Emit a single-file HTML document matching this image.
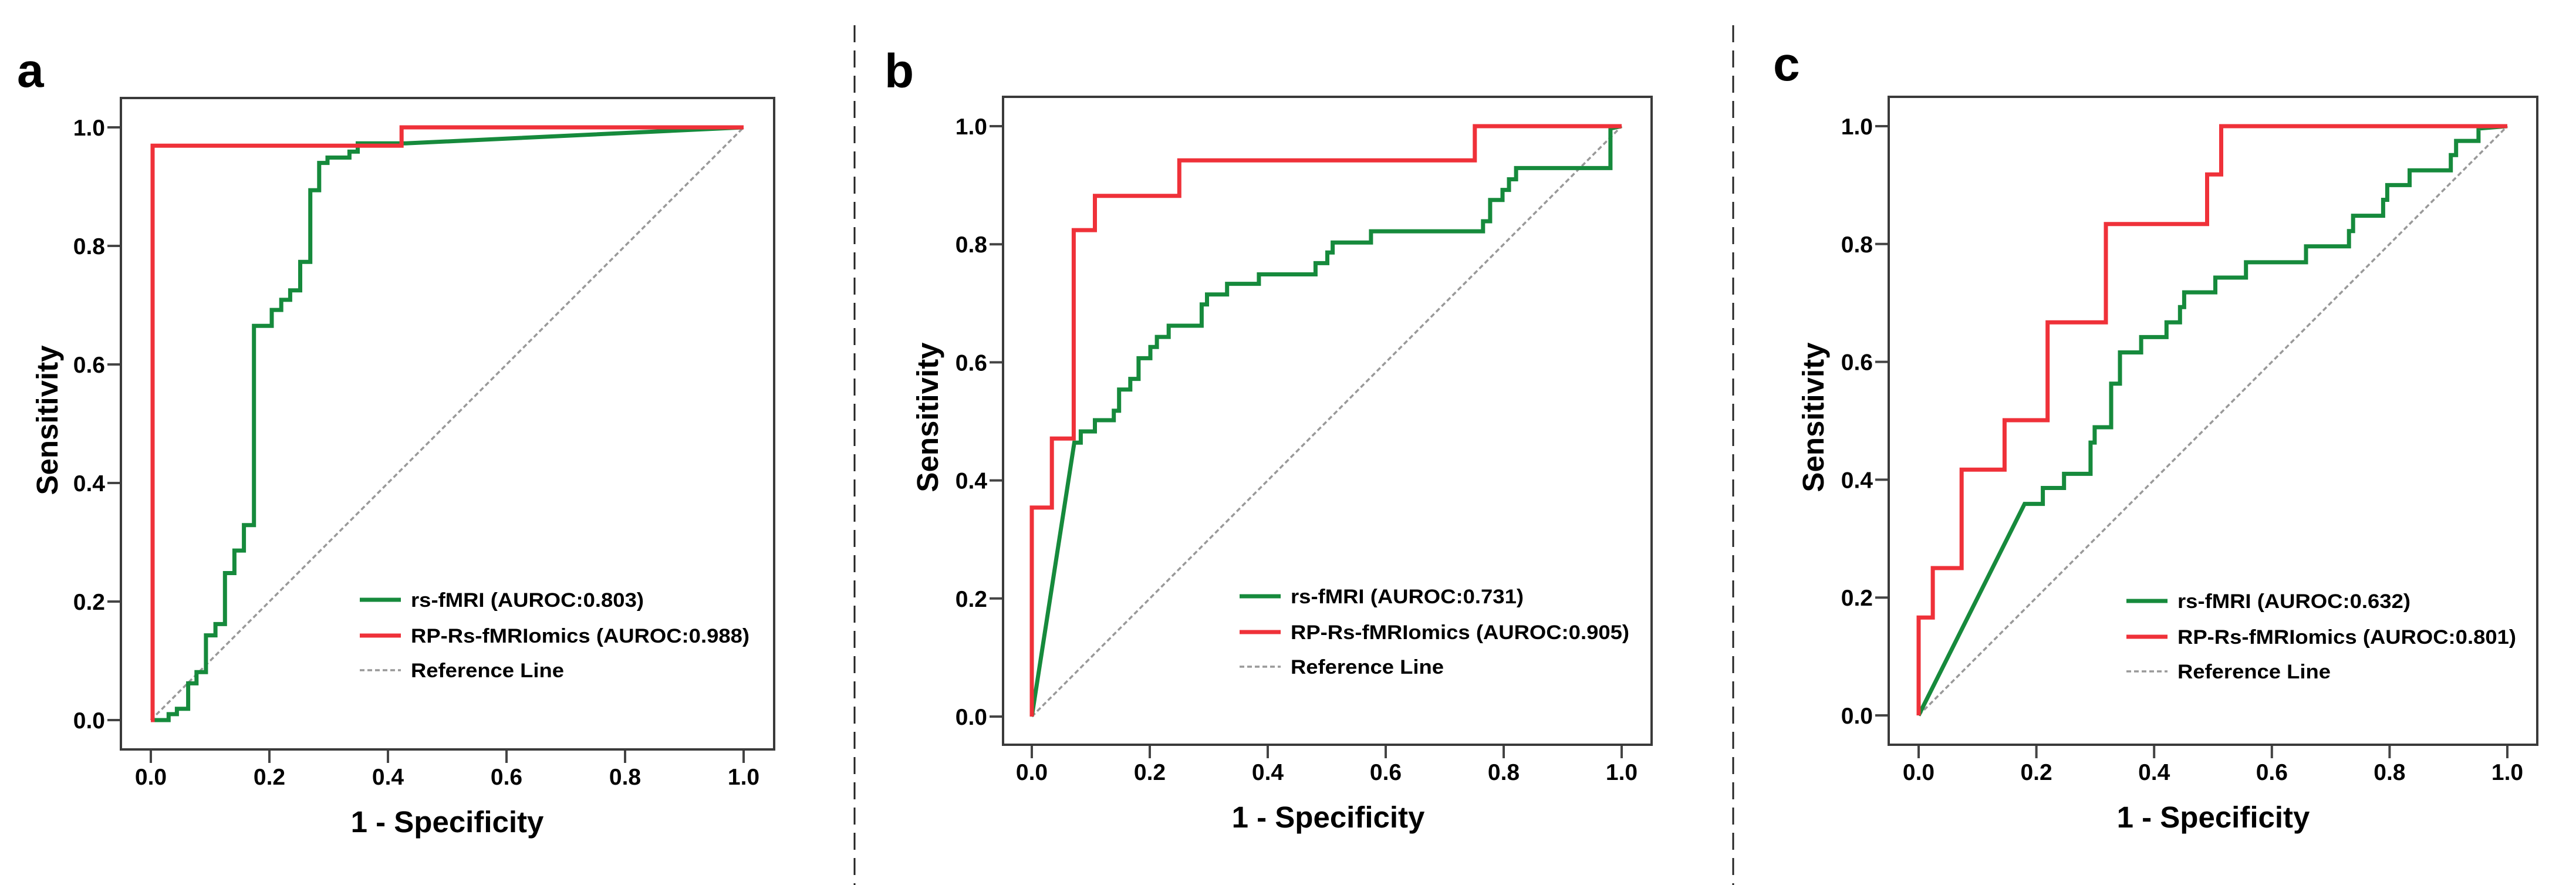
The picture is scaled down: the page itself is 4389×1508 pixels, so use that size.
<!DOCTYPE html>
<html><head><meta charset="utf-8"><style>
html,body{margin:0;padding:0;background:#fff;}
svg{display:block;font-family:"Liberation Sans",Arial,sans-serif;font-weight:bold;}
</style></head><body>
<svg id="fig" width="4389" height="1508" viewBox="0 0 4389 1508" xmlns="http://www.w3.org/2000/svg">
<rect x="0" y="0" width="4389" height="1508" fill="#fff"/>
<line x1="1456" y1="43" x2="1456" y2="1508" stroke="#222" stroke-width="3" stroke-dasharray="29 14"/>
<line x1="2953" y1="43" x2="2953" y2="1508" stroke="#222" stroke-width="3" stroke-dasharray="29 14"/>
</svg>
<script>
// ---- data: ROC vertices (1 - specificity, sensitivity) ----
const tickLabels = ["0.0","0.2","0.4","0.6","0.8","1.0"];
const tickValues = [0,0.2,0.4,0.6,0.8,1.0];

const aGreenFpr = [0,0.03,0.03,0.044,0.044,0.063,0.063,0.077,0.077,0.093,0.093,0.109,0.109,0.125,0.125,0.141,0.141,0.157,0.157,0.174,0.174,0.204,0.204,0.22,0.22,0.235,0.235,0.252,0.252,0.269,0.269,0.284,0.284,0.298,0.298,0.335,0.335,0.349,0.349,0.43,1];
const aGreenTpr = [0,0,0.01,0.01,0.019,0.019,0.062,0.062,0.081,0.081,0.143,0.143,0.162,0.162,0.248,0.248,0.286,0.286,0.329,0.329,0.665,0.665,0.692,0.692,0.709,0.709,0.725,0.725,0.773,0.773,0.894,0.894,0.94,0.94,0.949,0.949,0.959,0.959,0.973,0.973,1];
const aRedFpr = [0,0.003,0.003,0.423,0.423,1];
const aRedTpr = [0,0,0.969,0.969,1,1];

const bGreenFpr = [0,0.072,0.083,0.083,0.107,0.107,0.139,0.139,0.148,0.148,0.167,0.167,0.181,0.181,0.201,0.201,0.212,0.212,0.232,0.232,0.288,0.288,0.297,0.297,0.331,0.331,0.385,0.385,0.481,0.481,0.501,0.501,0.51,0.51,0.575,0.575,0.765,0.765,0.777,0.777,0.798,0.798,0.809,0.809,0.821,0.821,0.981,0.981,1];
const bGreenTpr = [0,0.464,0.464,0.483,0.483,0.502,0.502,0.518,0.518,0.554,0.554,0.572,0.572,0.607,0.607,0.626,0.626,0.643,0.643,0.662,0.662,0.698,0.698,0.715,0.715,0.733,0.733,0.749,0.749,0.768,0.768,0.786,0.786,0.803,0.803,0.822,0.822,0.839,0.839,0.875,0.875,0.892,0.892,0.91,0.91,0.929,0.929,0.996,1];
const bRedFpr = [0,0,0.034,0.034,0.071,0.071,0.107,0.107,0.25,0.25,0.751,0.751,1];
const bRedTpr = [0,0.354,0.354,0.471,0.471,0.824,0.824,0.882,0.882,0.942,0.942,1,1];

const cGreenFpr = [0,0.18,0.211,0.211,0.247,0.247,0.292,0.292,0.299,0.299,0.327,0.327,0.342,0.342,0.378,0.378,0.421,0.421,0.444,0.444,0.451,0.451,0.504,0.504,0.556,0.556,0.658,0.658,0.731,0.731,0.738,0.738,0.789,0.789,0.796,0.796,0.834,0.834,0.904,0.904,0.913,0.913,0.951,0.951,1];
const cGreenTpr = [0,0.359,0.359,0.386,0.386,0.41,0.41,0.463,0.463,0.489,0.489,0.563,0.563,0.616,0.616,0.642,0.642,0.667,0.667,0.693,0.693,0.718,0.718,0.743,0.743,0.769,0.769,0.796,0.796,0.822,0.822,0.848,0.848,0.875,0.875,0.9,0.9,0.925,0.925,0.951,0.951,0.975,0.975,0.996,1];
const cRedFpr = [0,0,0.024,0.024,0.073,0.073,0.146,0.146,0.219,0.219,0.318,0.318,0.49,0.49,0.514,0.514,1];
const cRedTpr = [0,0.166,0.166,0.25,0.25,0.417,0.417,0.501,0.501,0.667,0.667,0.834,0.834,0.918,0.918,1,1];

const panelLetters = ["a","b","c"];
const greenLabels = ["rs-fMRI (AUROC:0.803)","rs-fMRI (AUROC:0.731)","rs-fMRI (AUROC:0.632)"];
const redLabels = ["RP-Rs-fMRIomics (AUROC:0.988)","RP-Rs-fMRIomics (AUROC:0.905)","RP-Rs-fMRIomics (AUROC:0.801)"];

// ---- layout ----
const layouts = [
 {L:206,R:1319,T:167,B:1277,x0:257,x1:1267,y0:1227,y1:217,letterX:29,letterY:148,sensX:98,xtc:762,legX:613,legY:1022},
 {L:1709,R:2814,T:165,B:1269,x0:1758,x1:2763,y0:1221,y1:215,letterX:1507,letterY:149,sensX:1598,xtc:2263,legX:2112,legY:1016},
 {L:3218,R:4323,T:165,B:1269,x0:3269,x1:4272,y0:1219,y1:215,letterX:3021,letterY:137,sensX:3107,xtc:3771,legX:3623,legY:1024}
];
const series = [[aGreenFpr,aGreenTpr,aRedFpr,aRedTpr],[bGreenFpr,bGreenTpr,bRedFpr,bRedTpr],[cGreenFpr,cGreenTpr,cRedFpr,cRedTpr]];
const NS="http://www.w3.org/2000/svg";
const svg=document.getElementById('fig');
function mk(tag,attrs,parent){const e=document.createElementNS(NS,tag);for(const k in attrs)e.setAttribute(k,attrs[k]);(parent||svg).appendChild(e);return e;}

layouts.forEach((p,i)=>{
  const g=mk('g',{});
  
  
  const sx=v=>p.x0+v*(p.x1-p.x0);
  const sy=v=>p.y0-v*(p.y0-p.y1);
  const lt=mk('text',{x:p.letterX,y:p.letterY,'font-size':82,fill:'#000'},g);lt.textContent=panelLetters[i];
  
  
  // ticks
  tickValues.forEach((v,k)=>{
    mk('line',{x1:p.L-23,x2:p.L,y1:sy(v),y2:sy(v),stroke:'#444','stroke-width':4},g);
    const ty=mk('text',{x:p.L-27,y:sy(v)+14,'font-size':39,'text-anchor':'end',fill:'#000'},g);ty.textContent=tickLabels[k];
    
    
    mk('line',{x1:sx(v),x2:sx(v),y1:p.B,y2:p.B+23,stroke:'#444','stroke-width':4},g);
    const tx=mk('text',{x:sx(v),y:p.B+60,'font-size':39,'text-anchor':'middle',fill:'#000'},g);tx.textContent=tickLabels[k];
    
    
  });
  // reference line
  const rl=mk('line',{x1:sx(0),y1:sy(0),x2:sx(1),y2:sy(1),stroke:'#999','stroke-width':3.5,'stroke-dasharray':'8 5'},g);
  
  
  const s=series[i];
  const pts=(xs,ys)=>xs.map((x,k)=>sx(x).toFixed(1)+','+sy(ys[k]).toFixed(1)).join(' ');
  const gl=mk('polyline',{points:pts(s[0],s[1]),fill:'none',stroke:'#168a3c','stroke-width':7,'stroke-linejoin':'miter'},g);
  
  
  const rd=mk('polyline',{points:pts(s[2],s[3]),fill:'none',stroke:'#ef3139','stroke-width':7,'stroke-linejoin':'miter'},g);
  
  
  // frame
  const fr=mk('rect',{x:p.L,y:p.T,width:p.R-p.L,height:p.B-p.T,fill:'none',stroke:'#3a3a3a','stroke-width':4},g);
  
  
  // axis titles
  const xt=mk('text',{x:p.xtc,y:p.B+141,'font-size':51,'text-anchor':'middle',fill:'#000'},g);xt.textContent='1 - Specificity';
  
  
  const cy=(p.T+p.B)/2-6;
  const yt=mk('text',{x:p.sensX,y:cy,'font-size':51,'text-anchor':'middle',fill:'#000',transform:`rotate(-90 ${p.sensX} ${cy})`},g);yt.textContent='Sensitivity';
  
  
  // legend
  const lg=mk('g',{},g);
  
  
  const rows=[[greenLabels[i],'#168a3c',null,397],[redLabels[i],'#ef3139',null,577],['Reference Line','#999','8 5',261]];
  rows.forEach((r,k)=>{
    const y=p.legY+k*[0,61,120][k]/ (k||1);
    const yy=p.legY+[0,61,120][k];
    mk('line',{x1:p.legX,x2:p.legX+70,y1:yy,y2:yy,stroke:r[1],'stroke-width':r[2]?3.5:7,'stroke-dasharray':r[2]||'none'},lg);
    const t=mk('text',{x:p.legX+87,y:yy+12,'font-size':34,fill:'#000',textLength:r[3],lengthAdjust:'spacingAndGlyphs'},lg);t.textContent=r[0];
    
    
  });
});
</script>
</body></html>
